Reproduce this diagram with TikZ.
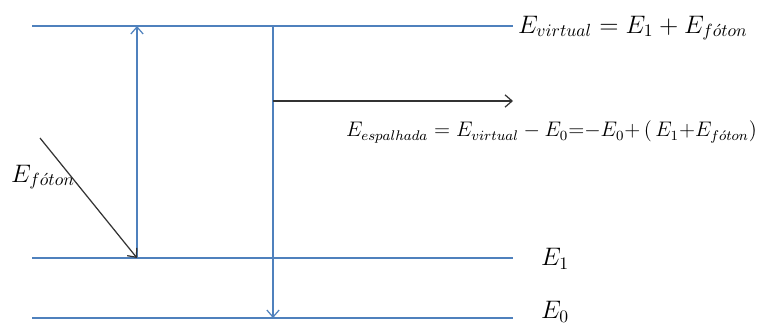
\documentclass[tikz,border=0pt]{standalone}
\usepackage{amsmath}
\usetikzlibrary{arrows.meta}
\definecolor{levelblue}{RGB}{79,129,189}
\begin{document}
\begin{tikzpicture}[
    x=0.02cm, y=-0.02cm,
    font=\Large,
    level/.style={draw=levelblue, line width=0.7pt},
    trans/.style={draw=levelblue, line width=0.7pt, -{Straight Barb[length=4pt,width=7pt]}},
    ray/.style={draw=black!80, line width=0.7pt, -{Straight Barb[length=4pt,width=7pt]}},
    lbl/.style={anchor=west, inner sep=1pt}
  ]
    \useasboundingbox (0,0) rectangle (764,325);

    %% --- energy levels ---
    \coordinate (vL) at (32,26);   \coordinate (vR) at (513,26);
    \coordinate (aL) at (32,258);  \coordinate (aR) at (513,258);
    \coordinate (bL) at (32,318);  \coordinate (bR) at (513,318);
    \draw[level] (vL) -- (vR);
    \draw[level] (aL) -- (aR);
    \draw[level] (bL) -- (bR);

    %% --- transitions ---
    \coordinate (upS) at (137,258);  \coordinate (upE) at (137,26);
    \coordinate (dnS) at (273,26);   \coordinate (dnE) at (273,318);
    \coordinate (scS) at (273,101);  \coordinate (scE) at (513,101);
    \coordinate (phS) at (40,138);
    \draw[trans] (upS) -- (upE);
    \draw[trans] (dnS) -- (dnE);
    \draw[ray] (scS) -- (scE);
    \draw[ray] (phS) -- (upS);

    %% --- labels ---
    \node[lbl] (virt) at (516,28) {$E_{virtual} = E_1 + E_{f\acute{o}ton}$};
    \node[lbl, font=\large] (esp) at (344,132)
      {$E_{espalhada} = E_{virtual} - E_0{=}{-}E_0{+}\,(\,E_1{+}E_{f\acute{o}ton})$};
    \node[lbl] (phot) at (9,177) {$E_{f\acute{o}ton}$};
    \node[lbl] (lvA) at (539,259) {$E_1$};
    \node[lbl] (lvB) at (539,312) {$E_0$};
  \end{tikzpicture}
\end{document}
